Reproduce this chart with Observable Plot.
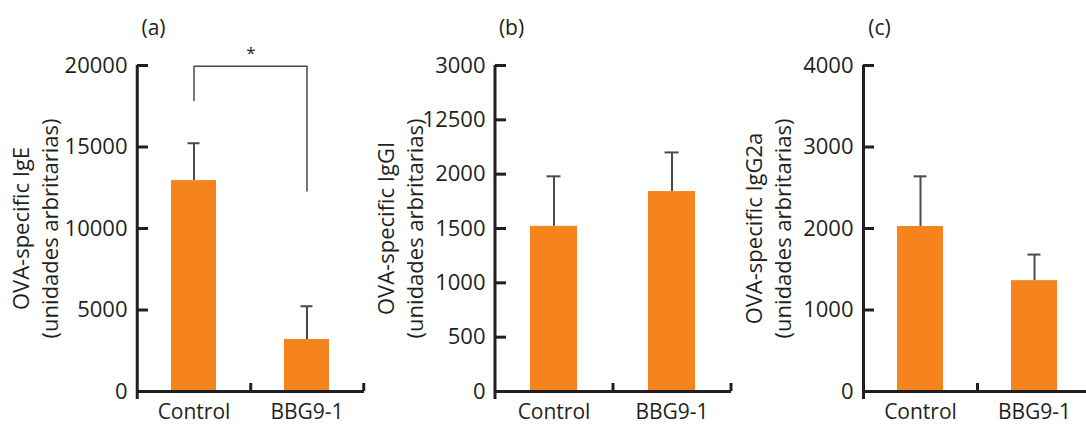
<!DOCTYPE html>
<html>
<head>
<meta charset="utf-8">
<script src="https://cdn.jsdelivr.net/npm/d3@7"></script>
<script src="https://cdn.jsdelivr.net/npm/@observablehq/plot@0.6"></script>
<style>
  html, body { margin: 0; padding: 0; background: #fff; }
  #wrap { position: relative; width: 1086px; height: 428px; overflow: hidden; background: #fff; }
  .panel { position: absolute; top: 0; }
  .panel svg { overflow: visible; max-width: none !important; }
</style>
</head>
<body>
<div id="wrap"></div>
<script>
// ---- data ----
const categories = ["Control", "BBG9-1"];
const panelLetters = ["(a)", "(b)", "(c)"];
const yTitles = [
  "OVA-specific IgE\n(unidades arbritarias)",
  "OVA-specific IgGI\n(unidades arbritarias)",
  "OVA-specific IgG2a\n(unidades arbritarias)"
];

const igeMeans = [12940, 3190];
const igeErrTop = [15230, 5230];
const igg1Means = [1520, 1840];
const igg1ErrTop = [1980, 2200];
const igg2aMeans = [2025, 1360];
const igg2aErrTop = [2640, 1680];

const igeTicks = [0, 5000, 10000, 15000, 20000];
const igeTickLabels = ["0", "5000", "10000", "15000", "20000"];
const igg1Ticks = [0, 500, 1000, 1500, 2000, 2500, 3000];
const igg1TickLabels = ["0", "500", "1000", "1500", "2000", "12500", "3000"];
const igg2aTicks = [0, 1000, 2000, 3000, 4000];
const igg2aTickLabels = ["0", "1000", "2000", "3000", "4000"];

const sigBracketCats = ["Control", "Control", "BBG9-1", "BBG9-1"];
const sigBracketValues = [17850, 19950, 19950, 12300];
const sigLabel = "*";

// ---- styling ----
const ORANGE = "#f5841f";
const INK = "#231f20";
const ERR = "#4a4a4a";
const FONT = "'Open Sans', sans-serif";
const H = 428, MT = 65, MB = 37;

const panels = [
  {left: 0,   width: 364, marginLeft: 137, means: igeMeans, errs: igeErrTop, ticks: igeTicks, labels: igeTickLabels, max: 20000, titleDx: -103, sig: true},
  {left: 364, width: 367, marginLeft: 131, means: igg1Means, errs: igg1ErrTop, ticks: igg1Ticks, labels: igg1TickLabels, max: 3000, titleDx: -96, sig: false},
  {left: 731, width: 360, marginLeft: 132, means: igg2aMeans, errs: igg2aErrTop, ticks: igg2aTicks, labels: igg2aTickLabels, max: 4000, titleDx: -96, sig: false}
];

const wrap = document.getElementById("wrap");

panels.forEach((p, k) => {
  const rows = categories.map((c, i) => ({cat: c, val: p.means[i], err: p.errs[i]}));
  const frameW = p.width - p.marginLeft;
  const frameH = H - MT - MB;
  const step = frameW / categories.length;

  const marks = [
    Plot.barY(rows, {x: "cat", y: "val", fill: ORANGE}),
    Plot.ruleX(rows, {x: "cat", y1: "val", y2: "err", stroke: ERR, strokeWidth: 2}),
    Plot.tickY(rows, {x: "cat", y: "err", stroke: ERR, strokeWidth: 2, insetLeft: 16.5, insetRight: 16.5}),
    // y axis line (extends below x axis)
    Plot.ruleX([categories[0]], {x: d => d, dx: -step / 2, stroke: INK, strokeWidth: 3, insetBottom: -8}),
    // x axis line
    Plot.ruleY([0], {stroke: INK, strokeWidth: 3}),
    // category boundary ticks (pointing up)
    Plot.ruleX(categories, {x: d => d, dx: step / 2, stroke: INK, strokeWidth: 3, insetTop: frameH - 8}),
    // inward y ticks
    Plot.tickY(p.ticks, {y: d => d, stroke: INK, strokeWidth: 3, insetRight: frameW - 11}),
    Plot.axisY({ticks: p.ticks, tickFormat: (d) => p.labels[p.ticks.indexOf(d)], tickSize: 0, tickPadding: 10, label: null, fontSize: 22, fill: INK}),
    Plot.axisX({tickSize: 0, tickPadding: 13, label: null, fontSize: 21, fill: INK}),
    Plot.text([yTitles[k]], {frameAnchor: "left", text: d => d, rotate: -90, textAnchor: "middle", lineAnchor: "middle", dx: p.titleDx, fontSize: 22, lineHeight: 29 / 22, fill: INK}),
    Plot.text([panelLetters[k]], {frameAnchor: "top-left", text: d => d, textAnchor: "middle", dx: 16, dy: -45, fontSize: 21, fill: INK})
  ];

  if (p.sig) {
    const br = sigBracketCats.map((c, i) => ({cat: c, v: sigBracketValues[i]}));
    marks.push(Plot.line(br, {x: "cat", y: "v", stroke: ERR, strokeWidth: 1.5, curve: "linear"}));
    marks.push(Plot.text([sigLabel], {frameAnchor: "top", text: d => d, dy: -19, fontSize: 17, fill: INK}));
  }

  const chart = Plot.plot({
    width: p.width,
    height: H,
    marginLeft: p.marginLeft,
    marginRight: 0,
    marginTop: MT,
    marginBottom: MB,
    style: {fontFamily: FONT, fontSize: "21px", color: INK, background: "transparent", overflow: "visible", maxWidth: "none"},
    x: {domain: categories, paddingInner: 0.6, paddingOuter: 0.3, axis: null},
    y: {domain: [0, p.max], axis: null},
    marks
  });

  const div = document.createElement("div");
  div.className = "panel";
  div.style.left = p.left + "px";
  div.style.width = p.width + "px";
  div.appendChild(chart);
  wrap.appendChild(div);
});
</script>
</body>
</html>
